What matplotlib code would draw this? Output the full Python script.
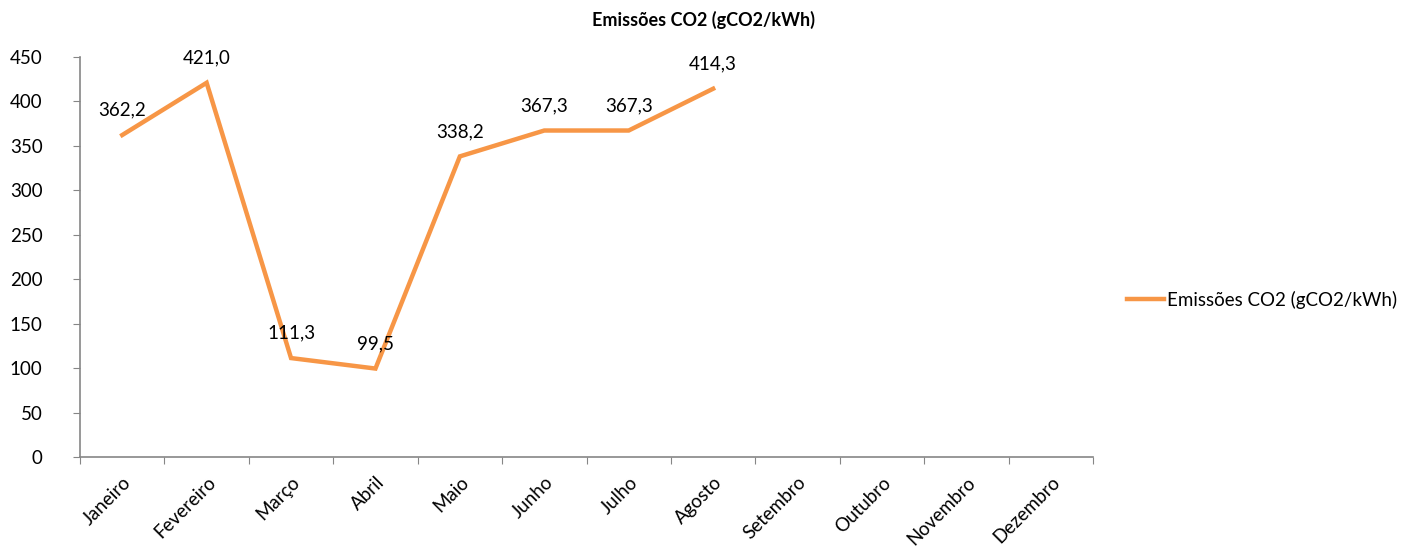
import matplotlib
matplotlib.use("Agg")
import matplotlib.pyplot as plt
import numpy as np

months = ["Janeiro", "Fevereiro", "Março", "Abril", "Maio", "Junho", "Julho",
          "Agosto", "Setembro", "Outubro", "Novembro", "Dezembro"]
values = [362.2, 421.0, 111.3, 99.5, 338.2, 367.3, 367.3, 414.3]
series_name = "Emissões CO2 (gCO2/kWh)"
yticks = [0, 50, 100, 150, 200, 250, 300, 350, 400, 450]

plt.rcParams['font.family'] = ['Lato', 'DejaVu Sans']
color = "#F79646"
axis_color = "#868686"
fs = 13.5

fig = plt.figure(figsize=(14.09, 5.52), dpi=100)
ax = fig.add_axes([80/1409, 1-457/552, (1093-80)/1409, (457-57)/552])

x = np.arange(len(values))
ax.plot(x, values, color=color, linewidth=3.2, solid_joinstyle='miter', label=series_name)
for xi, v in zip(x, values):
    ax.annotate(f"{v:.1f}".replace(".", ","), (xi, v), xytext=(0, 18),
                textcoords="offset points", ha="center", va="center", fontsize=fs)

ax.set_xlim(-0.5, len(months) - 0.5)
ax.set_ylim(0, 450)
ax.set_yticks(yticks)
ax.set_yticklabels([str(t) for t in yticks], fontsize=fs)
ax.tick_params(axis='y', direction='out', length=5, color=axis_color, pad=22)

ax.set_xticks(np.arange(len(months) + 1) - 0.5)
ax.set_xticklabels([])
ax.tick_params(axis='x', direction='out', length=5, color=axis_color)
ax.set_xticks(np.arange(len(months)), minor=True)
ax.set_xticklabels(months, minor=True, rotation=45, ha='right', va='top',
                   rotation_mode='anchor', fontsize=fs)
ax.tick_params(axis='x', which='minor', length=0, pad=12)

for s in ['top', 'right']:
    ax.spines[s].set_visible(False)
for s in ['left', 'bottom']:
    ax.spines[s].set_color(axis_color)
    ax.spines[s].set_linewidth(1.2)

fig.text(704/1409, 1-20/552, series_name, ha='center', va='center',
         fontsize=13, fontweight='bold')

fig.legend(loc='center left', bbox_to_anchor=(1110/1409, 1-300/552), frameon=False,
           fontsize=fs, handlelength=2.0, handletextpad=0.15)

fig.savefig("out.png", dpi=100)
